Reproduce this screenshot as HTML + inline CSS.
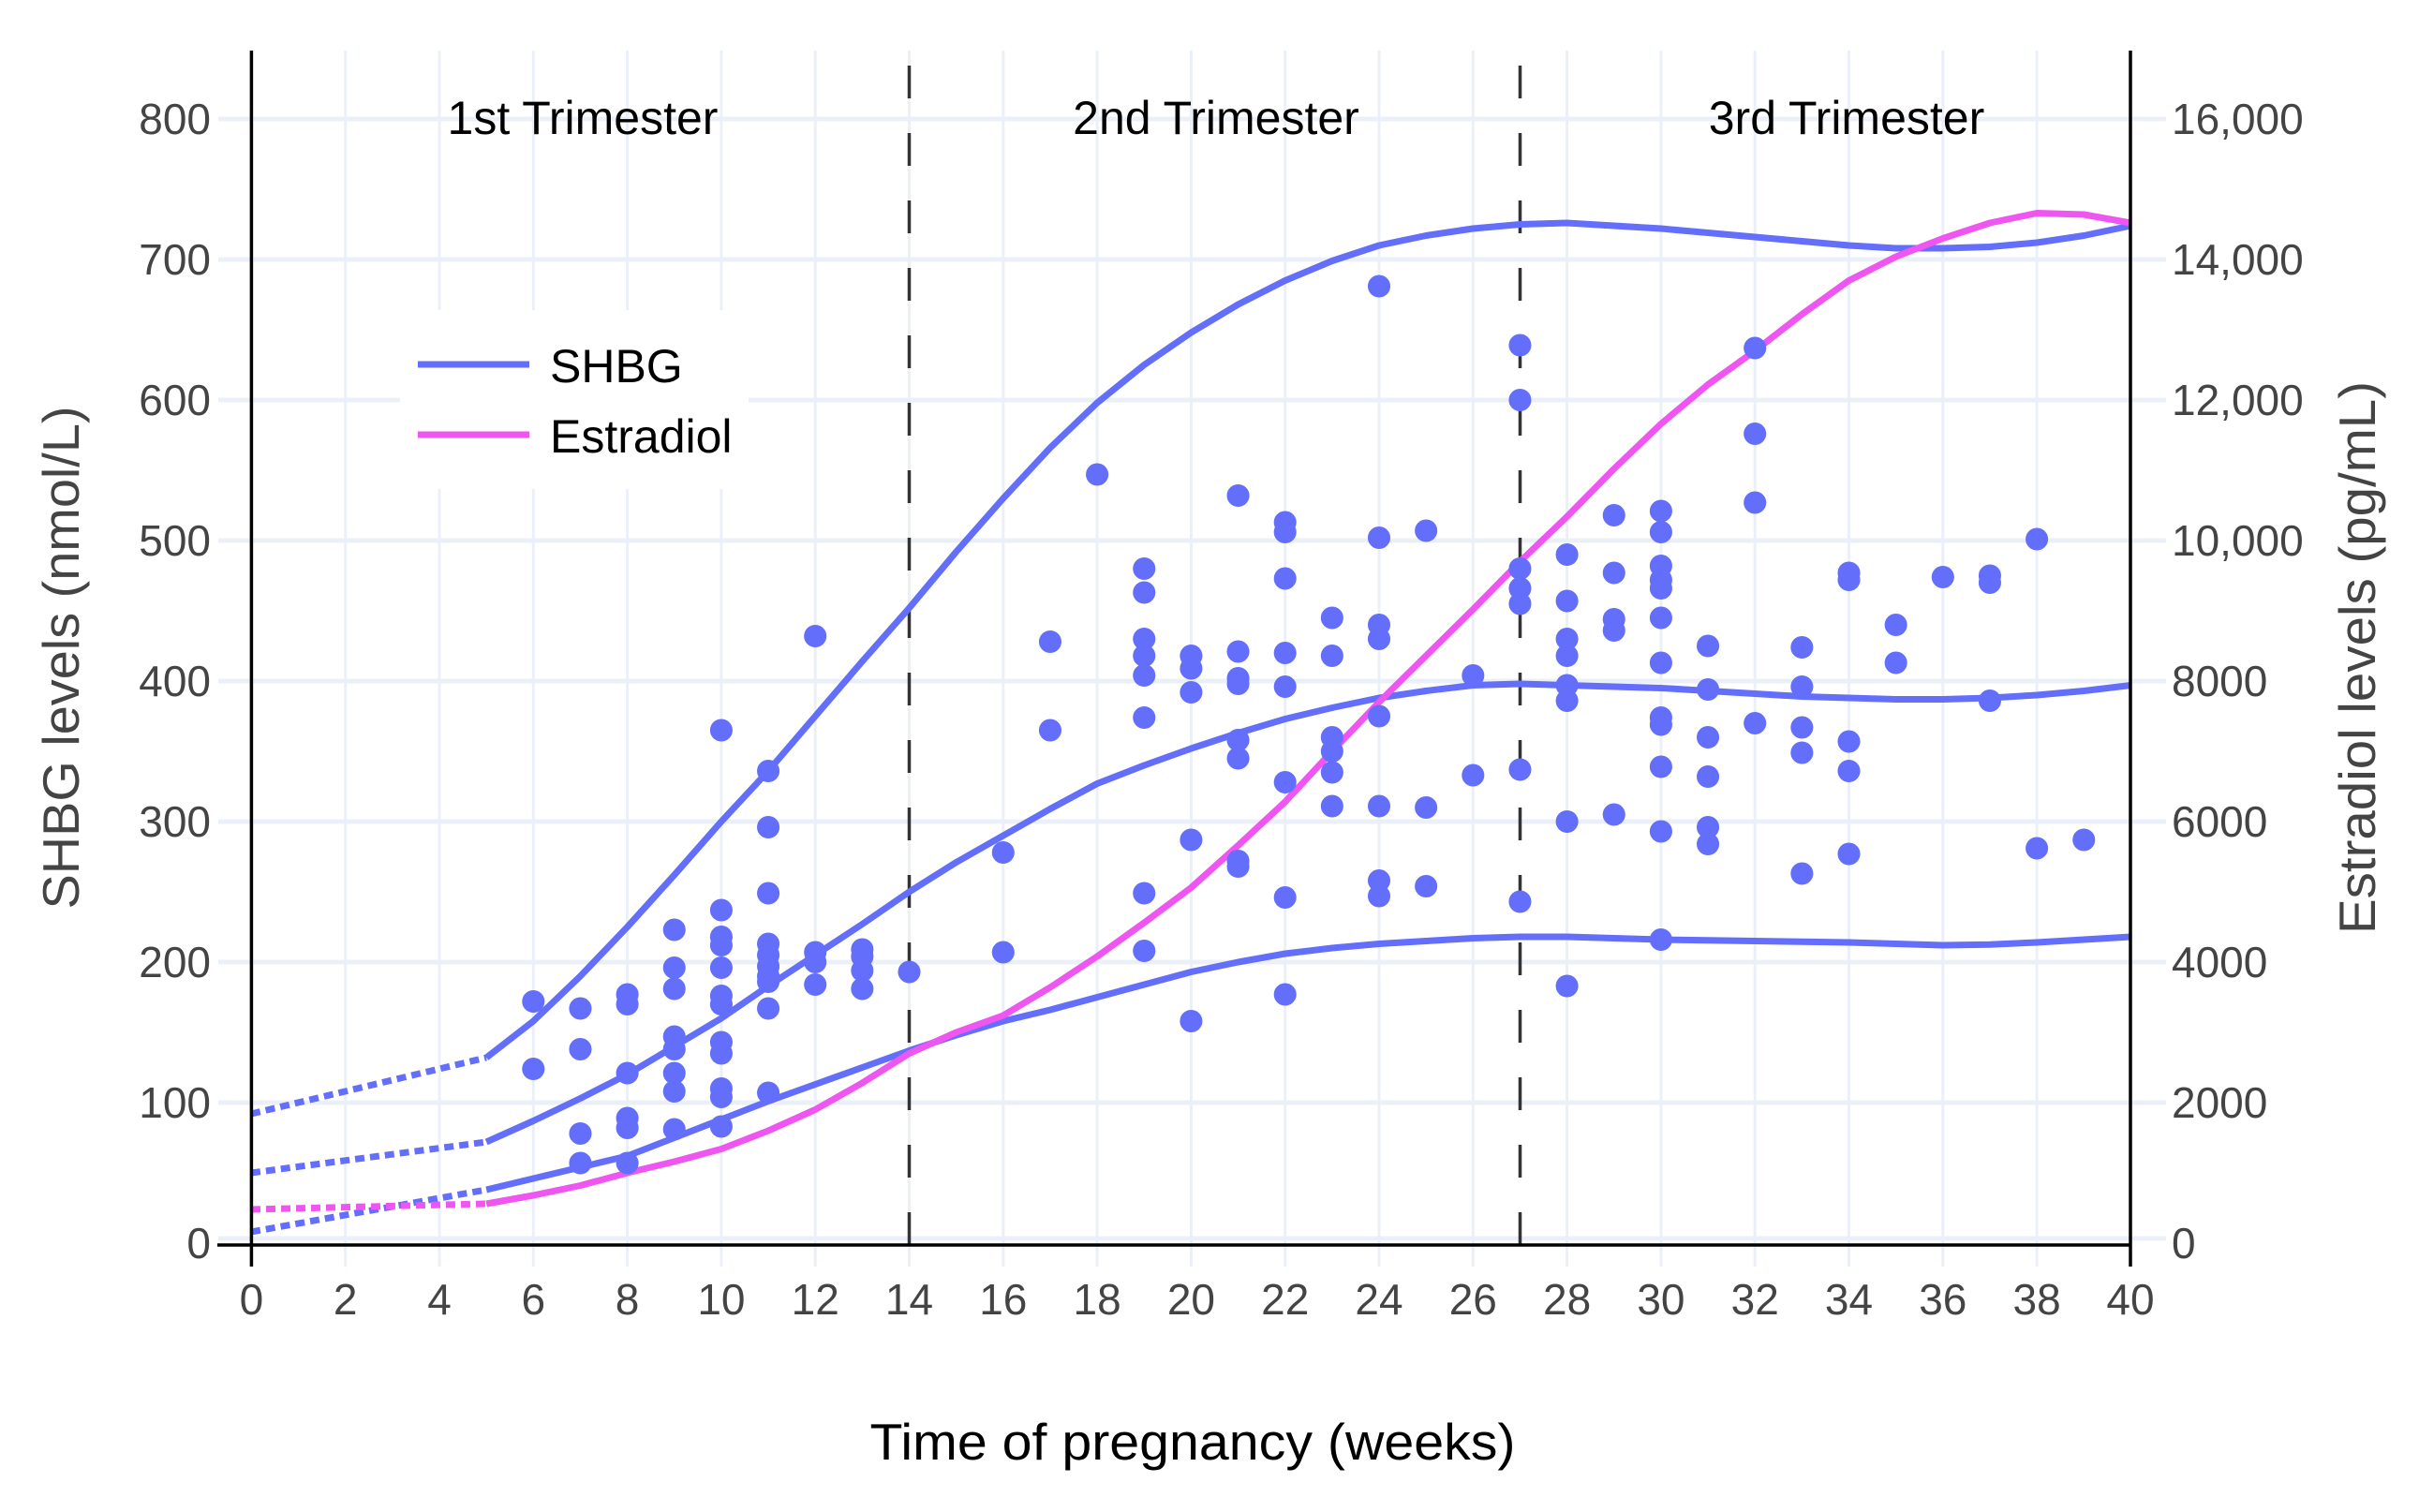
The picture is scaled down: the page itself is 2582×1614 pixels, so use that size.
<!DOCTYPE html>
<html><head><meta charset="utf-8"><style>
html,body{margin:0;padding:0;background:#fff;}
svg{display:block;font-family:"Liberation Sans",sans-serif;}
</style></head><body>
<svg width="2582" height="1614" viewBox="0 0 2582 1614" xmlns="http://www.w3.org/2000/svg">
<rect width="2582" height="1614" fill="#fff"/>
<g stroke="#ebf0f8" stroke-width="3">
<line x1="368.7" y1="54" x2="368.7" y2="1352"/><line x1="469" y1="54" x2="469" y2="1352"/><line x1="569.3" y1="54" x2="569.3" y2="1352"/><line x1="669.6" y1="54" x2="669.6" y2="1352"/><line x1="769.9" y1="54" x2="769.9" y2="1352"/><line x1="870.2" y1="54" x2="870.2" y2="1352"/><line x1="970.5" y1="54" x2="970.5" y2="1352"/><line x1="1070.8" y1="54" x2="1070.8" y2="1352"/><line x1="1171.1" y1="54" x2="1171.1" y2="1352"/><line x1="1271.4" y1="54" x2="1271.4" y2="1352"/><line x1="1371.7" y1="54" x2="1371.7" y2="1352"/><line x1="1472" y1="54" x2="1472" y2="1352"/><line x1="1572.3" y1="54" x2="1572.3" y2="1352"/><line x1="1672.6" y1="54" x2="1672.6" y2="1352"/><line x1="1772.9" y1="54" x2="1772.9" y2="1352"/><line x1="1873.2" y1="54" x2="1873.2" y2="1352"/><line x1="1973.5" y1="54" x2="1973.5" y2="1352"/><line x1="2073.8" y1="54" x2="2073.8" y2="1352"/><line x1="2174.1" y1="54" x2="2174.1" y2="1352"/>
<line x1="268.4" y1="1330" x2="268.4" y2="1352"/><line x1="2274" y1="1330" x2="2274" y2="1352"/>
</g>
<g stroke="#ebf0f8" stroke-width="5">
<line x1="233" y1="127" x2="2312" y2="127"/><line x1="233" y1="277" x2="2312" y2="277"/><line x1="233" y1="427" x2="2312" y2="427"/><line x1="233" y1="577" x2="2312" y2="577"/><line x1="233" y1="727" x2="2312" y2="727"/><line x1="233" y1="877" x2="2312" y2="877"/><line x1="233" y1="1027" x2="2312" y2="1027"/><line x1="233" y1="1177" x2="2312" y2="1177"/><line x1="233" y1="1322" x2="2312" y2="1322"/>
</g>
<rect x="427" y="331" width="372" height="191" fill="#fff"/>
<g stroke="#333" stroke-width="3.5" stroke-dasharray="35,37">
<line x1="970.5" y1="1329" x2="970.5" y2="54"/>
<line x1="1622.5" y1="1329" x2="1622.5" y2="54"/>
</g>
<g stroke-width="7" stroke-dasharray="10,6" fill="none">
<line x1="268" y1="1189" x2="519" y2="1129" stroke="#636efa"/>
<line x1="268" y1="1252" x2="519" y2="1219" stroke="#636efa"/>
<line x1="268" y1="1315" x2="519" y2="1270" stroke="#636efa"/>
<line x1="268" y1="1291" x2="519" y2="1285" stroke="#ef55f1"/>
</g>
<g transform="matrix(50.15 0 0 -1.5 268.4 1327)">
<polyline vector-effect="non-scaling-stroke" stroke="#636efa" stroke-width="7" stroke-linejoin="round" fill="none" points="5,132 6,158 7,190 8,225 9,262 10,300 11,336 12,375 13,414 14,452 15,492 16,530 17,566 18,598 19,625 20,648 21,668 22,685 23,699 24,710 25,717 26,722 27,725 28,726 29,724 30,722 31,719 32,716 33,713 34,710 35,708 36,708 37,709 38,712 39,717 40,724"/>
<polyline vector-effect="non-scaling-stroke" stroke="#636efa" stroke-width="7" stroke-linejoin="round" fill="none" points="5,72 6,87 7,103 8,120 9,140 10,160 11,183 12,205 13,227 14,250 15,271 16,290 17,309 18,327 19,340 20,352 21,363 22,373 23,381 24,388 25,393 26,397 27,398 28,397 29,396 30,395 31,393 32,391 33,389 34,388 35,387 36,387 37,388 38,390 39,393 40,397"/>
<polyline vector-effect="non-scaling-stroke" stroke="#636efa" stroke-width="7" stroke-linejoin="round" fill="none" points="5,38 6,46 7,54 8,62 9,75 10,88 11,101 12,113 13,125 14,137 15,148 16,158 17,166 18,175 19,184 20,193 21,200 22,206 23,210 24,213 25,215 26,217 27,218 28,218 29,217 30,216 31,215.5 32,215 33,214.5 34,214 35,213 36,212 37,212.5 38,214 39,216 40,218"/>
<polyline vector-effect="non-scaling-stroke" stroke="#ef55f1" stroke-width="7" stroke-linejoin="round" fill="none" points="5,28 6,34 7,41 8,50 9,58 10,67 11,80 12,95 13,114 14,135 15,150 16,162 17,182 18,204 19,228 20,253 21,283 22,314 23,350 24,385 25,418 26,451 27,485 28,517 29,551 30,583 31,611 32,635 33,661 34,685 35,702 36,715 37,726 38,733 39,732 40,726"/>
<g fill="#636efa">
<ellipse cx="6" cy="172" rx="0.24" ry="8"/><ellipse cx="6" cy="124" rx="0.24" ry="8"/>
<ellipse cx="7" cy="167" rx="0.24" ry="8"/><ellipse cx="7" cy="138" rx="0.24" ry="8"/><ellipse cx="7" cy="78" rx="0.24" ry="8"/><ellipse cx="7" cy="57" rx="0.24" ry="8"/>
<ellipse cx="8" cy="177" rx="0.24" ry="8"/><ellipse cx="8" cy="170" rx="0.24" ry="8"/><ellipse cx="8" cy="121" rx="0.24" ry="8"/><ellipse cx="8" cy="89" rx="0.24" ry="8"/><ellipse cx="8" cy="82" rx="0.24" ry="8"/><ellipse cx="8" cy="57" rx="0.24" ry="8"/>
<ellipse cx="9" cy="223" rx="0.24" ry="8"/><ellipse cx="9" cy="196" rx="0.24" ry="8"/><ellipse cx="9" cy="181" rx="0.24" ry="8"/><ellipse cx="9" cy="147" rx="0.24" ry="8"/><ellipse cx="9" cy="138" rx="0.24" ry="8"/><ellipse cx="9" cy="121" rx="0.24" ry="8"/><ellipse cx="9" cy="108" rx="0.24" ry="8"/><ellipse cx="9" cy="81" rx="0.24" ry="8"/>
<ellipse cx="10" cy="365" rx="0.24" ry="8"/><ellipse cx="10" cy="237" rx="0.24" ry="8"/><ellipse cx="10" cy="218" rx="0.24" ry="8"/><ellipse cx="10" cy="212" rx="0.24" ry="8"/><ellipse cx="10" cy="196" rx="0.24" ry="8"/><ellipse cx="10" cy="176" rx="0.24" ry="8"/><ellipse cx="10" cy="170" rx="0.24" ry="8"/><ellipse cx="10" cy="143" rx="0.24" ry="8"/><ellipse cx="10" cy="135" rx="0.24" ry="8"/><ellipse cx="10" cy="110" rx="0.24" ry="8"/><ellipse cx="10" cy="104" rx="0.24" ry="8"/><ellipse cx="10" cy="83" rx="0.24" ry="8"/>
<ellipse cx="11" cy="336" rx="0.24" ry="8"/><ellipse cx="11" cy="296" rx="0.24" ry="8"/><ellipse cx="11" cy="249" rx="0.24" ry="8"/><ellipse cx="11" cy="213" rx="0.24" ry="8"/><ellipse cx="11" cy="205" rx="0.24" ry="8"/><ellipse cx="11" cy="197" rx="0.24" ry="8"/><ellipse cx="11" cy="190" rx="0.24" ry="8"/><ellipse cx="11" cy="186" rx="0.24" ry="8"/><ellipse cx="11" cy="167" rx="0.24" ry="8"/><ellipse cx="11" cy="107" rx="0.24" ry="8"/>
<ellipse cx="12" cy="432" rx="0.24" ry="8"/><ellipse cx="12" cy="207" rx="0.24" ry="8"/><ellipse cx="12" cy="200" rx="0.24" ry="8"/><ellipse cx="12" cy="184" rx="0.24" ry="8"/>
<ellipse cx="13" cy="209" rx="0.24" ry="8"/><ellipse cx="13" cy="204" rx="0.24" ry="8"/><ellipse cx="13" cy="194" rx="0.24" ry="8"/><ellipse cx="13" cy="181" rx="0.24" ry="8"/>
<ellipse cx="14" cy="193" rx="0.24" ry="8"/>
<ellipse cx="16" cy="278" rx="0.24" ry="8"/><ellipse cx="16" cy="207" rx="0.24" ry="8"/>
<ellipse cx="17" cy="428" rx="0.24" ry="8"/><ellipse cx="17" cy="365" rx="0.24" ry="8"/>
<ellipse cx="18" cy="547" rx="0.24" ry="8"/>
<ellipse cx="19" cy="480" rx="0.24" ry="8"/><ellipse cx="19" cy="463" rx="0.24" ry="8"/><ellipse cx="19" cy="430" rx="0.24" ry="8"/><ellipse cx="19" cy="418" rx="0.24" ry="8"/><ellipse cx="19" cy="404" rx="0.24" ry="8"/><ellipse cx="19" cy="374" rx="0.24" ry="8"/><ellipse cx="19" cy="249" rx="0.24" ry="8"/><ellipse cx="19" cy="208" rx="0.24" ry="8"/>
<ellipse cx="20" cy="418" rx="0.24" ry="8"/><ellipse cx="20" cy="409" rx="0.24" ry="8"/><ellipse cx="20" cy="392" rx="0.24" ry="8"/><ellipse cx="20" cy="287" rx="0.24" ry="8"/><ellipse cx="20" cy="158" rx="0.24" ry="8"/>
<ellipse cx="21" cy="532" rx="0.24" ry="8"/><ellipse cx="21" cy="421" rx="0.24" ry="8"/><ellipse cx="21" cy="402" rx="0.24" ry="8"/><ellipse cx="21" cy="398" rx="0.24" ry="8"/><ellipse cx="21" cy="358" rx="0.24" ry="8"/><ellipse cx="21" cy="345" rx="0.24" ry="8"/><ellipse cx="21" cy="272" rx="0.24" ry="8"/><ellipse cx="21" cy="268" rx="0.24" ry="8"/>
<ellipse cx="22" cy="513" rx="0.24" ry="8"/><ellipse cx="22" cy="506" rx="0.24" ry="8"/><ellipse cx="22" cy="473" rx="0.24" ry="8"/><ellipse cx="22" cy="420" rx="0.24" ry="8"/><ellipse cx="22" cy="396" rx="0.24" ry="8"/><ellipse cx="22" cy="328" rx="0.24" ry="8"/><ellipse cx="22" cy="246" rx="0.24" ry="8"/><ellipse cx="22" cy="177" rx="0.24" ry="8"/>
<ellipse cx="23" cy="445" rx="0.24" ry="8"/><ellipse cx="23" cy="418" rx="0.24" ry="8"/><ellipse cx="23" cy="360" rx="0.24" ry="8"/><ellipse cx="23" cy="350" rx="0.24" ry="8"/><ellipse cx="23" cy="335" rx="0.24" ry="8"/><ellipse cx="23" cy="311" rx="0.24" ry="8"/>
<ellipse cx="24" cy="681" rx="0.24" ry="8"/><ellipse cx="24" cy="502" rx="0.24" ry="8"/><ellipse cx="24" cy="440" rx="0.24" ry="8"/><ellipse cx="24" cy="430" rx="0.24" ry="8"/><ellipse cx="24" cy="375" rx="0.24" ry="8"/><ellipse cx="24" cy="311" rx="0.24" ry="8"/><ellipse cx="24" cy="258" rx="0.24" ry="8"/><ellipse cx="24" cy="247" rx="0.24" ry="8"/>
<ellipse cx="25" cy="507" rx="0.24" ry="8"/><ellipse cx="25" cy="310" rx="0.24" ry="8"/><ellipse cx="25" cy="254" rx="0.24" ry="8"/>
<ellipse cx="26" cy="404" rx="0.24" ry="8"/><ellipse cx="26" cy="333" rx="0.24" ry="8"/>
<ellipse cx="27" cy="639" rx="0.24" ry="8"/><ellipse cx="27" cy="600" rx="0.24" ry="8"/><ellipse cx="27" cy="480" rx="0.24" ry="8"/><ellipse cx="27" cy="466" rx="0.24" ry="8"/><ellipse cx="27" cy="455" rx="0.24" ry="8"/><ellipse cx="27" cy="337" rx="0.24" ry="8"/><ellipse cx="27" cy="243" rx="0.24" ry="8"/>
<ellipse cx="28" cy="490" rx="0.24" ry="8"/><ellipse cx="28" cy="457" rx="0.24" ry="8"/><ellipse cx="28" cy="430" rx="0.24" ry="8"/><ellipse cx="28" cy="418" rx="0.24" ry="8"/><ellipse cx="28" cy="397" rx="0.24" ry="8"/><ellipse cx="28" cy="386" rx="0.24" ry="8"/><ellipse cx="28" cy="300" rx="0.24" ry="8"/><ellipse cx="28" cy="183" rx="0.24" ry="8"/>
<ellipse cx="29" cy="518" rx="0.24" ry="8"/><ellipse cx="29" cy="477" rx="0.24" ry="8"/><ellipse cx="29" cy="444" rx="0.24" ry="8"/><ellipse cx="29" cy="436" rx="0.24" ry="8"/><ellipse cx="29" cy="305" rx="0.24" ry="8"/>
<ellipse cx="30" cy="521" rx="0.24" ry="8"/><ellipse cx="30" cy="506" rx="0.24" ry="8"/><ellipse cx="30" cy="482" rx="0.24" ry="8"/><ellipse cx="30" cy="472" rx="0.24" ry="8"/><ellipse cx="30" cy="466" rx="0.24" ry="8"/><ellipse cx="30" cy="445" rx="0.24" ry="8"/><ellipse cx="30" cy="413" rx="0.24" ry="8"/><ellipse cx="30" cy="374" rx="0.24" ry="8"/><ellipse cx="30" cy="369" rx="0.24" ry="8"/><ellipse cx="30" cy="339" rx="0.24" ry="8"/><ellipse cx="30" cy="293" rx="0.24" ry="8"/><ellipse cx="30" cy="216" rx="0.24" ry="8"/>
<ellipse cx="31" cy="425" rx="0.24" ry="8"/><ellipse cx="31" cy="394" rx="0.24" ry="8"/><ellipse cx="31" cy="360" rx="0.24" ry="8"/><ellipse cx="31" cy="332" rx="0.24" ry="8"/><ellipse cx="31" cy="296" rx="0.24" ry="8"/><ellipse cx="31" cy="284" rx="0.24" ry="8"/>
<ellipse cx="32" cy="637" rx="0.24" ry="8"/><ellipse cx="32" cy="576" rx="0.24" ry="8"/><ellipse cx="32" cy="527" rx="0.24" ry="8"/><ellipse cx="32" cy="370" rx="0.24" ry="8"/>
<ellipse cx="33" cy="424" rx="0.24" ry="8"/><ellipse cx="33" cy="396" rx="0.24" ry="8"/><ellipse cx="33" cy="367" rx="0.24" ry="8"/><ellipse cx="33" cy="349" rx="0.24" ry="8"/><ellipse cx="33" cy="263" rx="0.24" ry="8"/>
<ellipse cx="34" cy="477" rx="0.24" ry="8"/><ellipse cx="34" cy="472" rx="0.24" ry="8"/><ellipse cx="34" cy="357" rx="0.24" ry="8"/><ellipse cx="34" cy="336" rx="0.24" ry="8"/><ellipse cx="34" cy="277" rx="0.24" ry="8"/>
<ellipse cx="35" cy="440" rx="0.24" ry="8"/><ellipse cx="35" cy="413" rx="0.24" ry="8"/>
<ellipse cx="36" cy="474" rx="0.24" ry="8"/>
<ellipse cx="37" cy="475" rx="0.24" ry="8"/><ellipse cx="37" cy="470" rx="0.24" ry="8"/><ellipse cx="37" cy="386" rx="0.24" ry="8"/>
<ellipse cx="38" cy="501" rx="0.24" ry="8"/><ellipse cx="38" cy="281" rx="0.24" ry="8"/>
<ellipse cx="39" cy="287" rx="0.24" ry="8"/>
</g>
</g>
<g stroke="#000" stroke-width="3.5">
<line x1="268.4" y1="54" x2="268.4" y2="1352"/>
<line x1="2274" y1="54" x2="2274" y2="1352"/>
<line x1="232" y1="1329" x2="2274" y2="1329"/>
</g>
<line x1="446" y1="389" x2="565" y2="389" stroke="#636efa" stroke-width="7"/>
<line x1="446" y1="464" x2="565" y2="464" stroke="#ef55f1" stroke-width="7"/>
<text x="587" y="408" font-size="50" fill="#000">SHBG</text>
<text x="587" y="483" font-size="50" fill="#000">Estradiol</text>
<g font-size="50" fill="#000" text-anchor="middle">
<text x="622" y="143">1st Trimester</text>
<text x="1298" y="143">2nd Trimester</text>
<text x="1971" y="143">3rd Trimester</text>
</g>
<g font-size="46" fill="#444" text-anchor="end">
<text x="225" y="143">800</text><text x="225" y="293">700</text><text x="225" y="443">600</text><text x="225" y="593">500</text><text x="225" y="743">400</text><text x="225" y="893">300</text><text x="225" y="1043">200</text><text x="225" y="1193">100</text><text x="225" y="1343">0</text>
</g>
<g font-size="46" fill="#444">
<text x="2318" y="143">16,000</text><text x="2318" y="293">14,000</text><text x="2318" y="443">12,000</text><text x="2318" y="593">10,000</text><text x="2318" y="743">8000</text><text x="2318" y="893">6000</text><text x="2318" y="1043">4000</text><text x="2318" y="1193">2000</text><text x="2318" y="1343">0</text>
</g>
<g font-size="46" fill="#444" text-anchor="middle">
<text x="268.4" y="1403">0</text><text x="368.7" y="1403">2</text><text x="469" y="1403">4</text><text x="569.3" y="1403">6</text><text x="669.6" y="1403">8</text><text x="769.9" y="1403">10</text><text x="870.2" y="1403">12</text><text x="970.5" y="1403">14</text><text x="1070.8" y="1403">16</text><text x="1171.1" y="1403">18</text><text x="1271.4" y="1403">20</text><text x="1371.7" y="1403">22</text><text x="1472" y="1403">24</text><text x="1572.3" y="1403">26</text><text x="1672.6" y="1403">28</text><text x="1772.9" y="1403">30</text><text x="1873.2" y="1403">32</text><text x="1973.5" y="1403">34</text><text x="2073.8" y="1403">36</text><text x="2174.1" y="1403">38</text><text x="2274" y="1403">40</text>
</g>
<text x="1273" y="1558" font-size="55" fill="#000" text-anchor="middle" textLength="689" lengthAdjust="spacingAndGlyphs">Time of pregnancy (weeks)</text>
<text transform="translate(84,702) rotate(-90)" font-size="55" fill="#444" text-anchor="middle" textLength="537" lengthAdjust="spacingAndGlyphs">SHBG levels (nmol/L)</text>
<text transform="translate(2535,702) rotate(-90)" font-size="55" fill="#444" text-anchor="middle" textLength="590" lengthAdjust="spacingAndGlyphs">Estradiol levels (pg/mL)</text>
</svg>
</body></html>
